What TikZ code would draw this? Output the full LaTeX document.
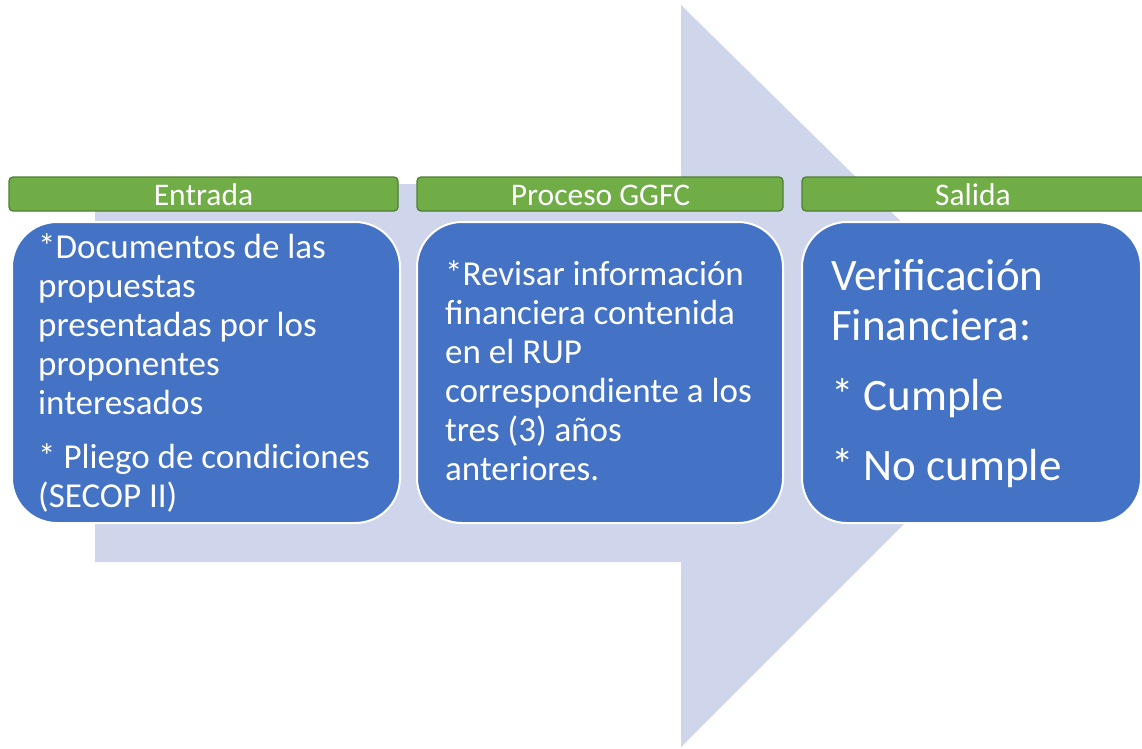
\documentclass[tikz,border=0pt]{standalone}
\usepackage{fontspec}
\setmainfont{Carlito}
\definecolor{arrowc}{HTML}{CFD5EA}
\definecolor{boxblue}{HTML}{4472C4}
\definecolor{hdrgreen}{HTML}{70AD47}
\definecolor{hdrline}{HTML}{507E32}
\begin{document}
\begin{tikzpicture}[x=1pt,y=-1pt,
  bluebox/.style={draw=white,line width=2pt,fill=boxblue,rounded corners=45pt,anchor=north west,inner sep=0pt,outer sep=0pt},
  hdr/.style={draw=hdrline,line width=1.3pt,fill=hdrgreen,rounded corners=4pt,anchor=north west,inner sep=0pt,outer sep=0pt,minimum height=34pt},
  hdrtxt/.style={anchor=base,inner sep=0pt,text=white,font=\fontsize{31.5}{36}\selectfont},
  bodytxt/.style={anchor=base west,inner sep=0pt,text=white,font=\fontsize{35}{39}\selectfont},
  bigtxt/.style={anchor=base west,inner sep=0pt,text=white,font=\fontsize{45}{50}\selectfont}]
\useasboundingbox (0,0) rectangle (1142,748);
\fill[arrowc] (95,184) -- (681,184) -- (681,5) -- (1055,373) -- (681,747) -- (681,562) -- (95,562) -- cycle;
% headers
\node[hdr,minimum width=389pt] (h1) at (9,177) {};
\node[hdr,minimum width=366pt] (h2) at (417,177) {};
\node[hdr,minimum width=346pt] (h3) at (802,177) {};
\node[hdrtxt] (t1) at (203.5,205) {Entrada};
\node[hdrtxt] (t2) at (600.5,205) {Proceso GGFC};
\node[hdrtxt] (t3) at (973,205) {Salida};
% boxes
\node[bluebox,minimum width=388pt,minimum height=301pt] (b1) at (12,222) {};
\node[bluebox,minimum width=366pt,minimum height=301pt] (b2) at (417,222) {};
\node[bluebox,minimum width=339pt,minimum height=301pt] (b3) at (802,222) {};
% Entrada text
\node[bodytxt] (e1) at (38,258) {*Documentos de las};
\node[bodytxt] (e2) at (38,297) {propuestas};
\node[bodytxt] (e3) at (38,336) {presentadas por los};
\node[bodytxt] (e4) at (38,375) {proponentes};
\node[bodytxt] (e5) at (38,414) {interesados};
\node[bodytxt] (e6) at (38,468) {* Pliego de condiciones};
\node[bodytxt] (e7) at (38,507) {(SECOP II)};
% Proceso text
\node[bodytxt] (p1) at (445,285) {*Revisar información};
\node[bodytxt] (p2) at (445,324) {financiera contenida};
\node[bodytxt] (p3) at (445,363) {en el RUP};
\node[bodytxt] (p4) at (445,402) {correspondiente a los};
\node[bodytxt] (p5) at (445,441) {tres (3) años};
\node[bodytxt] (p6) at (445,480) {anteriores.};
% Salida text
\node[bigtxt] (s1) at (831,290) {Verificación};
\node[bigtxt] (s2) at (831,340) {Financiera:};
\node[bigtxt] (s3) at (831,410) {* Cumple};
\node[bigtxt] (s4) at (831,480) {* No cumple};
\end{tikzpicture}
\end{document}
